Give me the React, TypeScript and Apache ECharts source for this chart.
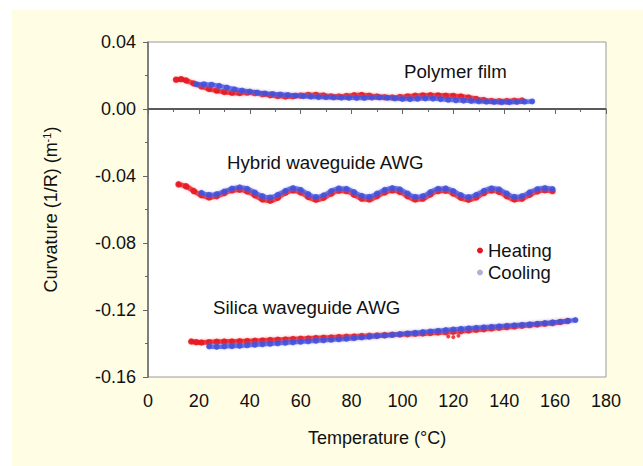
import React, { useEffect, useRef } from "react";
import * as echarts from "echarts";

const FONT = "'Liberation Sans', Arial, Helvetica, sans-serif";

const xTicks = [0, 20, 40, 60, 80, 100, 120, 140, 160, 180];
const yTicks = [-0.16, -0.12, -0.08, -0.04, 0.0, 0.04];

const polymerHeating: [number, number][] = [
  [11, 0.0175], [13, 0.0178], [15, 0.017], [18, 0.0152], [21, 0.0135], [24, 0.012], [27, 0.011], [30, 0.0102],
  [33, 0.0097], [36, 0.0096], [39, 0.0098], [42, 0.0095], [45, 0.0089], [48, 0.0083], [51, 0.0078], [54, 0.0075],
  [57, 0.0076], [60, 0.008], [63, 0.0084], [66, 0.0084], [69, 0.008], [72, 0.0075], [75, 0.0074], [78, 0.0077],
  [81, 0.0082], [84, 0.0083], [87, 0.0079], [90, 0.0074], [93, 0.007], [96, 0.0069], [99, 0.0071], [102, 0.0075],
  [105, 0.0079], [108, 0.0081], [111, 0.0082], [114, 0.0081], [117, 0.0079], [120, 0.0078], [123, 0.0074],
  [126, 0.0068], [129, 0.006], [132, 0.0053], [135, 0.0048], [138, 0.0046], [141, 0.0047], [144, 0.0049], [147, 0.005],
];

const polymerCooling: [number, number][] = [
  [19, 0.0148], [22, 0.0148], [25, 0.0145], [28, 0.0138], [31, 0.0128], [34, 0.0118], [37, 0.011], [40, 0.0104],
  [43, 0.0098], [46, 0.0093], [49, 0.009], [52, 0.0087], [55, 0.0084], [58, 0.008], [61, 0.0076], [64, 0.0073],
  [67, 0.0071], [70, 0.007], [73, 0.0069], [76, 0.0068], [79, 0.0067], [82, 0.0066], [85, 0.0066], [88, 0.0068],
  [91, 0.0069], [94, 0.0067], [97, 0.0063], [100, 0.006], [103, 0.0059], [106, 0.0061], [109, 0.0063], [112, 0.0062],
  [115, 0.0059], [118, 0.0055], [121, 0.0052], [124, 0.005], [127, 0.0048], [130, 0.0046], [133, 0.0044],
  [136, 0.0042], [139, 0.0041], [142, 0.0041], [145, 0.0042], [148, 0.0044], [151, 0.0045],
];

const hybridHeating: [number, number][] = [
  [12, -0.045], [15, -0.0462], [18, -0.049], [21, -0.0515], [24, -0.0528], [27, -0.052], [30, -0.0502],
  [33, -0.0486], [36, -0.0482], [39, -0.0492], [42, -0.0515], [45, -0.054], [48, -0.0548], [51, -0.053],
  [54, -0.05], [57, -0.0486], [60, -0.0498], [63, -0.0525], [66, -0.0542], [69, -0.053], [72, -0.0505],
  [75, -0.0488], [78, -0.049], [81, -0.0512], [84, -0.0535], [87, -0.054], [90, -0.052], [93, -0.0498],
  [96, -0.0486], [99, -0.0495], [102, -0.052], [105, -0.054], [108, -0.0535], [111, -0.051], [114, -0.049],
  [117, -0.0488], [120, -0.0505], [123, -0.053], [126, -0.0542], [129, -0.0528], [132, -0.0502], [135, -0.0487],
  [138, -0.0495], [141, -0.052], [144, -0.054], [147, -0.0535], [150, -0.0512], [153, -0.0492], [156, -0.0485],
  [159, -0.049],
];

const hybridCooling: [number, number][] = [
  [21, -0.05], [24, -0.0512], [27, -0.0508], [30, -0.0492], [33, -0.0475], [36, -0.0468], [39, -0.0476],
  [42, -0.0498], [45, -0.052], [48, -0.0528], [51, -0.0512], [54, -0.0488], [57, -0.0472], [60, -0.0482],
  [63, -0.0508], [66, -0.0525], [69, -0.0515], [72, -0.049], [75, -0.0474], [78, -0.0476], [81, -0.0496],
  [84, -0.0518], [87, -0.0524], [90, -0.0505], [93, -0.0483], [96, -0.0472], [99, -0.048], [102, -0.0504],
  [105, -0.0524], [108, -0.052], [111, -0.0496], [114, -0.0476], [117, -0.0474], [120, -0.049], [123, -0.0514],
  [126, -0.0526], [129, -0.0512], [132, -0.0488], [135, -0.0473], [138, -0.048], [141, -0.0504], [144, -0.0524],
  [147, -0.052], [150, -0.0497], [153, -0.0478], [156, -0.0472], [159, -0.0478],
];

const silicaHeating: [number, number][] = [
  [17, -0.1388], [19, -0.1392], [21, -0.1394], [24, -0.1392], [27, -0.139], [30, -0.1389], [33, -0.1388],
  [36, -0.1387], [39, -0.1386], [42, -0.1384], [45, -0.1382], [48, -0.138], [51, -0.1378], [54, -0.1376],
  [57, -0.1374], [60, -0.1372], [63, -0.137], [66, -0.1368], [69, -0.1366], [72, -0.1364], [75, -0.1362],
  [78, -0.136], [81, -0.1358], [84, -0.1356], [87, -0.1354], [90, -0.1352], [93, -0.135], [96, -0.1348],
  [99, -0.1346], [102, -0.1344], [105, -0.1342], [108, -0.134], [111, -0.1337], [114, -0.1334], [117, -0.1332],
  [120, -0.133], [123, -0.1326], [126, -0.1322], [129, -0.1318], [132, -0.1314], [135, -0.131], [138, -0.1306],
  [141, -0.1302], [144, -0.1298], [147, -0.1294], [150, -0.129], [153, -0.1286], [156, -0.1282], [159, -0.1278],
  [162, -0.1272], [165, -0.1266],
];

const silicaHeatingStray: [number, number][] = [[118, -0.1358], [120, -0.1362], [122, -0.1354]];

const silicaCooling: [number, number][] = [
  [24, -0.1418], [27, -0.142], [30, -0.1418], [33, -0.1416], [36, -0.1414], [39, -0.1411], [42, -0.1408],
  [45, -0.1405], [48, -0.1402], [51, -0.1399], [54, -0.1396], [57, -0.1393], [60, -0.139], [63, -0.1387],
  [66, -0.1384], [69, -0.1381], [72, -0.1378], [75, -0.1375], [78, -0.1372], [81, -0.1368], [84, -0.1364],
  [87, -0.136], [90, -0.1356], [93, -0.1352], [96, -0.1348], [99, -0.1344], [102, -0.134], [105, -0.1336],
  [108, -0.1332], [111, -0.1328], [114, -0.1324], [117, -0.132], [120, -0.1316], [123, -0.1312], [126, -0.1309],
  [129, -0.1306], [132, -0.1303], [135, -0.13], [138, -0.1297], [141, -0.1294], [144, -0.1291], [147, -0.1288],
  [150, -0.1285], [153, -0.1282], [156, -0.1278], [159, -0.1274], [162, -0.127], [165, -0.1265], [168, -0.126],
];

const seriesNames = ["Heating", "Cooling"];
const curveLabels = ["Polymer film", "Hybrid waveguide AWG", "Silica waveguide AWG"];

const RED = "#e6141e";
const BLUE = "#4050dc";

function band(name: string, data: [number, number][], color: string, glow: string, z: number, w: number) {
  return {
    name, type: "line", data, smooth: 0.4, showSymbol: true, symbol: "circle", symbolSize: w + 1.5, z,
    itemStyle: { color, opacity: 0.8, borderWidth: 0 },
    lineStyle: {
      color, width: w, cap: "round", join: "round", opacity: 0.75,
      shadowColor: glow, shadowBlur: 3,
    },
    emphasis: { disabled: true },
  };
}

export default function App() {
  const ref = useRef<HTMLDivElement>(null);
  useEffect(() => {
    if (!ref.current) return;
    const chart = echarts.init(ref.current, undefined, { renderer: "svg" });
    const txt = { fontFamily: FONT, fontSize: 18, color: "#111" };
    const redGlow = "rgba(240,70,70,0.6)";
    const blueGlow = "rgba(150,150,240,0.7)";
    chart.setOption({
      animation: false,
      grid: {
        left: 148, top: 42, width: 458, height: 335, show: true,
        backgroundColor: "#ffffff", borderColor: "#9a9a9a", borderWidth: 1,
      },
      legend: {
        orient: "vertical", left: 472, top: 236, itemWidth: 6, itemHeight: 6, itemGap: 3,
        icon: "circle", textStyle: { ...txt, fontSize: 18.5 },
        data: [
          { name: seriesNames[0], itemStyle: { color: "#e01822", opacity: 1 } },
          { name: seriesNames[1], itemStyle: { color: "#b0b0d4", opacity: 1 } },
        ],
      },
      xAxis: {
        type: "value", min: xTicks[0], max: xTicks[xTicks.length - 1], interval: 20,
        name: "Temperature (°C)", nameLocation: "middle", nameGap: 52,
        nameTextStyle: { ...txt },
        axisLine: { lineStyle: { color: "#666", width: 1.5 } },
        axisTick: { show: true, length: 5, lineStyle: { color: "#666" } },
        minorTick: { show: true, splitNumber: 2, length: 3, lineStyle: { color: "#666" } },
        splitLine: { show: false },
        axisLabel: { ...txt, margin: 15, formatter: (v: number) => String(Math.round(v)) },
      },
      yAxis: {
        type: "value", min: yTicks[0], max: yTicks[yTicks.length - 1], interval: 0.04,
        name: "{n|Curvature (1/R) (m}{s|-1}{n|)}", nameLocation: "middle", nameGap: 88,
        nameTextStyle: {
          rich: {
            n: { fontFamily: FONT, fontSize: 18, color: "#111" },
            s: { fontFamily: FONT, fontSize: 11, color: "#111", verticalAlign: "top", padding: [0, 0, 8, 0] },
          },
        },
        axisLine: { lineStyle: { color: "#666", width: 1.5 } },
        axisTick: { show: true, length: 5, lineStyle: { color: "#666" } },
        minorTick: { show: true, splitNumber: 2, length: 3, lineStyle: { color: "#666" } },
        splitLine: { show: false },
        axisLabel: {
          ...txt, margin: 12,
          formatter: (v: number) => (Math.abs(v) < 1e-9 ? "0.00" : v.toFixed(2)),
        },
      },
      graphic: [
        { type: "text", left: 404, top: 62, style: { text: curveLabels[0], font: `18.7px ${FONT}`, fill: "#111" } },
        { type: "text", left: 227, top: 153, style: { text: curveLabels[1], font: `18.7px ${FONT}`, fill: "#111" } },
        { type: "text", left: 213, top: 298, style: { text: curveLabels[2], font: `18.7px ${FONT}`, fill: "#111" } },
      ],
      series: [
        {
          ...band(seriesNames[0], polymerHeating, RED, redGlow, 2, 5),
          markLine: {
            silent: true, symbol: "none", label: { show: false },
            lineStyle: { color: "#5a5a5a", width: 2, type: "solid", shadowBlur: 0, opacity: 1 },
            data: [{ yAxis: 0 }],
          },
        },
        band(seriesNames[0], hybridHeating, RED, redGlow, 2, 5),
        band(seriesNames[0], silicaHeating, RED, redGlow, 2, 5),
        {
          name: seriesNames[0], type: "scatter", data: silicaHeatingStray, symbolSize: 4, z: 2,
          itemStyle: { color: RED },
        },
        band(seriesNames[1], polymerCooling, BLUE, blueGlow, 3, 4.5),
        band(seriesNames[1], hybridCooling, BLUE, blueGlow, 3, 4.5),
        band(seriesNames[1], silicaCooling, BLUE, blueGlow, 3, 4.5),
      ],
    });
    return () => chart.dispose();
  }, []);
  return (
    <div style={{ position: "fixed", left: 0, top: 0, width: 643, height: 466, background: "#ffffff" }}>
      <div style={{ position: "absolute", left: 12, top: 10, width: 631, height: 456, background: "#fffde3" }} />
      <div ref={ref} style={{ position: "absolute", left: 0, top: 0, width: 643, height: 466 }} />
    </div>
  );
}
